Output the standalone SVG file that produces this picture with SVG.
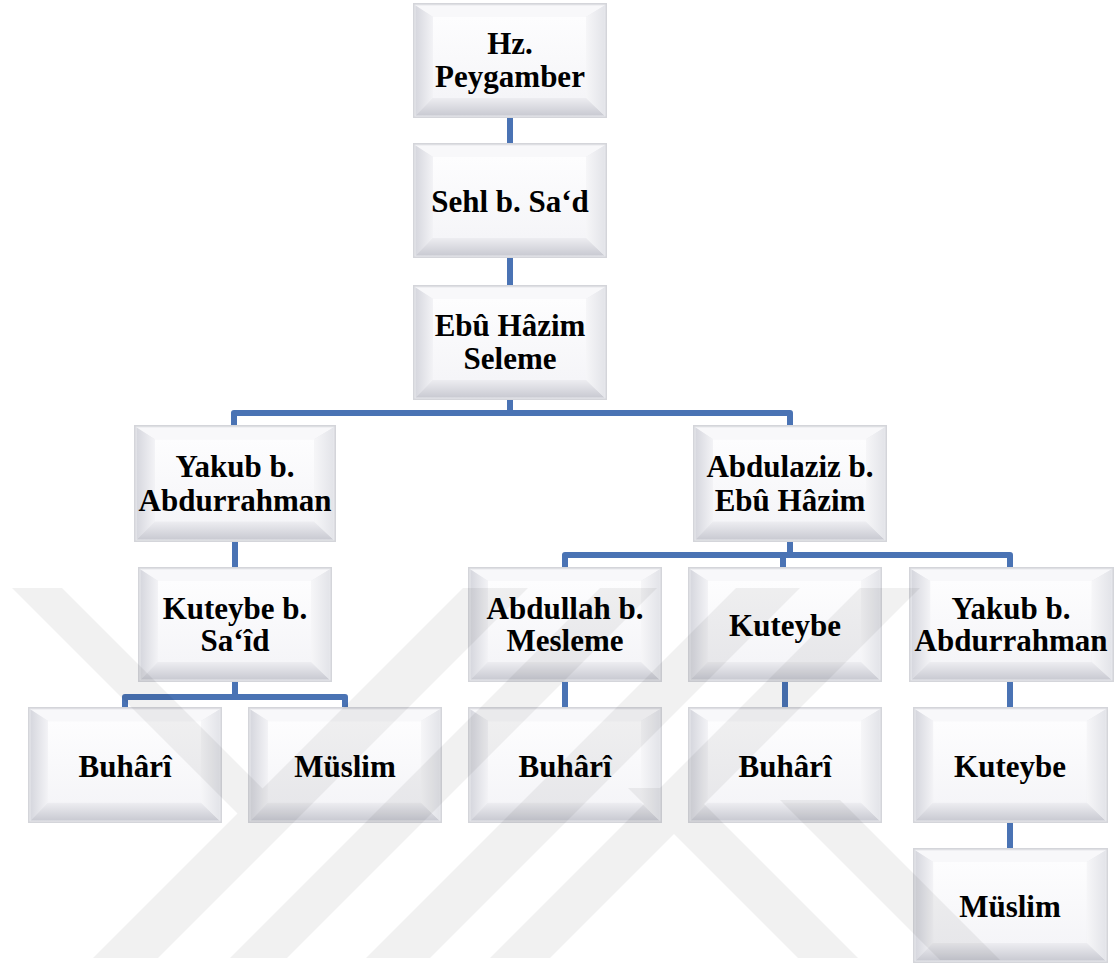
<svg xmlns="http://www.w3.org/2000/svg" xmlns:xlink="http://www.w3.org/1999/xlink" width="1119" height="968" viewBox="0 0 1119 968">
<style>
  .t { font-family: "Liberation Serif", "Times New Roman", serif; font-weight: bold; font-size: 31px; fill: #000; text-anchor: middle; }
  .c { fill: none; stroke: #4a73b4; stroke-width: 6; stroke-linejoin: round; stroke-linecap: butt; }
  .wm { fill: #000; }
</style>
<defs>
  <linearGradient id="gFace" x1="0" y1="0" x2="0" y2="1">
    <stop offset="0" stop-color="#fdfdfe"/>
    <stop offset="1" stop-color="#f5f5f8"/>
  </linearGradient>
  <linearGradient id="gLeft" x1="0" y1="0" x2="1" y2="0">
    <stop offset="0" stop-color="#d6d7de"/>
    <stop offset="1" stop-color="#f3f3f6"/>
  </linearGradient>
  <linearGradient id="gBottom" x1="0" y1="0" x2="0" y2="1">
    <stop offset="0" stop-color="#ededf1"/>
    <stop offset="1" stop-color="#c9cad2"/>
  </linearGradient>
  <linearGradient id="gRight" x1="0" y1="0" x2="1" y2="0">
    <stop offset="0" stop-color="#f6f6f8"/>
    <stop offset="1" stop-color="#e3e4e9"/>
  </linearGradient>
  <symbol id="bx" viewBox="0 0 194 115" preserveAspectRatio="none">
    <rect x="0.75" y="0.75" width="192.5" height="113.5" fill="#e8e9ed" stroke="#d4d5da" stroke-width="1.5"/>
    <polygon points="2.5,2.5 191.5,2.5 173,14 20,14" fill="#f8f8fa"/>
    <polygon points="2.5,2.5 20,14 20,95 2.5,112.5" fill="url(#gLeft)"/>
    <polygon points="2.5,112.5 20,95 173,95 191.5,112.5" fill="url(#gBottom)"/>
    <polygon points="191.5,2.5 191.5,112.5 173,95 173,14" fill="url(#gRight)"/>
    <rect x="20" y="14" width="153" height="81" fill="url(#gFace)"/>
  </symbol>
</defs>
<rect width="1119" height="968" fill="#ffffff"/>

<g id="connectors">
  <path class="c" d="M510,118 V143"/>
  <path class="c" d="M510,258 V285"/>
  <path class="c" d="M510,400 V413"/>
  <path class="c" d="M234,425 V413 H790 V425"/>
  <path class="c" d="M235,542 V567"/>
  <path class="c" d="M235,682 V697"/>
  <path class="c" d="M125,707 V697 H345 V707"/>
  <path class="c" d="M790,542 V555"/>
  <path class="c" d="M565,567 V555 H1010 V567"/>
  <path class="c" d="M783,555 V567"/>
  <path class="c" d="M565,682 V707"/>
  <path class="c" d="M785,682 V707"/>
  <path class="c" d="M1010,682 V707"/>
  <path class="c" d="M1010,823 V848"/>
</g>

<g id="n1"><use xlink:href="#bx" x="413" y="3" width="194" height="115"/>
  <text class="t" x="510" y="54">Hz.</text><text class="t" x="510" y="87">Peygamber</text></g>
<g id="n2"><use xlink:href="#bx" x="413" y="143" width="194" height="115"/>
  <text class="t" x="510" y="212">Sehl b. Sa‘d</text></g>
<g id="n3"><use xlink:href="#bx" x="413" y="285" width="194" height="115"/>
  <text class="t" x="510" y="336">Ebû Hâzim</text><text class="t" x="510" y="369">Seleme</text></g>
<g id="n4"><use xlink:href="#bx" x="134" y="425" width="202" height="117"/>
  <text class="t" x="235" y="477">Yakub b.</text><text class="t" x="235" y="511">Abdurrahman</text></g>
<g id="n5"><use xlink:href="#bx" x="693" y="425" width="194" height="117"/>
  <text class="t" x="790" y="477">Abdulaziz b.</text><text class="t" x="790" y="511">Ebû Hâzim</text></g>
<g id="n6"><use xlink:href="#bx" x="138" y="567" width="194" height="115"/>
  <text class="t" x="235" y="619">Kuteybe b.</text><text class="t" x="235" y="651">Sa‘îd</text></g>
<g id="n7"><use xlink:href="#bx" x="28" y="707" width="194" height="116"/>
  <text class="t" x="125" y="777">Buhârî</text></g>
<g id="n8"><use xlink:href="#bx" x="248" y="707" width="194" height="116"/>
  <text class="t" x="345" y="777">Müslim</text></g>
<g id="n9"><use xlink:href="#bx" x="468" y="567" width="194" height="115"/>
  <text class="t" x="565" y="619">Abdullah b.</text><text class="t" x="565" y="651">Mesleme</text></g>
<g id="n10"><use xlink:href="#bx" x="688" y="567" width="194" height="115"/>
  <text class="t" x="785" y="636">Kuteybe</text></g>
<g id="n11"><use xlink:href="#bx" x="909" y="567" width="205" height="115"/>
  <text class="t" x="1011" y="619">Yakub b.</text><text class="t" x="1011" y="651">Abdurrahman</text></g>
<g id="n12"><use xlink:href="#bx" x="468" y="707" width="194" height="116"/>
  <text class="t" x="565" y="777">Buhârî</text></g>
<g id="n13"><use xlink:href="#bx" x="688" y="707" width="194" height="116"/>
  <text class="t" x="785" y="777">Buhârî</text></g>
<g id="n14"><use xlink:href="#bx" x="913" y="707" width="195" height="116"/>
  <text class="t" x="1010" y="777">Kuteybe</text></g>
<g id="n15"><use xlink:href="#bx" x="913" y="848" width="195" height="115"/>
  <text class="t" x="1010" y="917">Müslim</text></g>

<g id="watermark" opacity="0.05">
  <polygon class="wm" points="12,588 62,588 292,818 242,818"/>
  <polygon class="wm" points="93,958 158,958 528,588 463,588"/>
  <polygon class="wm" points="230,958 287,958 657,588 600,588"/>
  <polygon class="wm" points="366,958 430,958 800,588 736,588"/>
  <polygon class="wm" points="490,958 550,958 920,588 860,588"/>
  <polygon class="wm" points="628,788 688,788 858,958 798,958"/>
  <polygon class="wm" points="780,800 840,800 1000,960 940,960"/>
</g>
</svg>
